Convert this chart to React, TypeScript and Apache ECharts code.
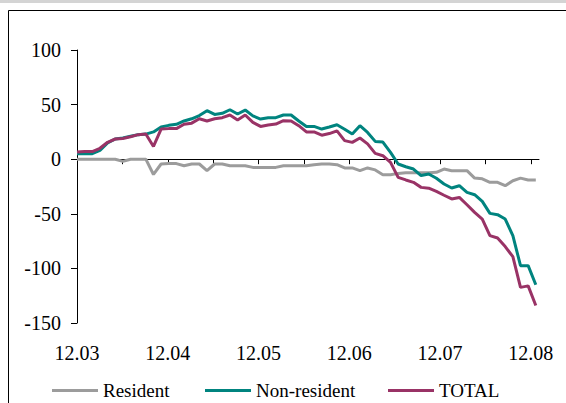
import React, { useEffect, useRef } from "react";
import * as echarts from "echarts";

// Month tick labels (yy.mm)
const MONTH_LABELS = ["12.03", "12.04", "12.05", "12.06", "12.07", "12.08"];
// Observations are regularly spaced, about 11.87 per month
const POINTS_PER_MONTH = 11.87;
const X_MAX_MONTHS = 5.09;

const resident = [
  0, 0, 0, 0, 0, 0, -2, 0, 0, 0,
  -14, -4.4, -4, -4, -6, -4.4, -4.4, -10.5, -4.4, -4.4,
  -6, -6, -6, -7.5, -7.5, -7.5, -7.5, -6, -6, -6,
  -6, -5, -4.4, -4.4, -5, -8, -8, -10.5, -8, -9.8,
  -14.2, -14.2, -13, -12.4, -12.4, -12.4, -12.4, -12, -9, -10.5,
  -10.5, -10.5, -17.3, -18, -21.2, -21.2, -24.3, -19.7, -17.3, -19,
  -19,
];

const nonResident = [
  5, 5, 5, 8, 15, 18.5, 19.5, 21, 22.5, 23,
  25, 29.5, 31, 32, 35, 37, 40, 44.4, 41, 42,
  45.3, 41.4, 45, 39.7, 36.8, 38, 38, 40.5, 40.5, 35,
  30, 30, 27.6, 29.5, 31.6, 27.5, 23, 30.7, 24.5, 16.3,
  15.7, 6.2, -4.4, -6.9, -9, -15, -13.6, -17.5, -22.7, -26.4,
  -24.3, -30.4, -32.5, -38.6, -49.6, -50.8, -54.8, -70, -97.5, -97.5,
  -115,
];

const total = [
  6.5, 7, 7, 10, 15.5, 18.5, 19, 20.5, 22.5, 23,
  11.7, 27.6, 28, 28, 32, 33, 37, 35, 37, 38,
  40.5, 36, 40.5, 33.7, 30, 31.3, 32.2, 35.3, 35, 30.7,
  25, 25, 22, 23.5, 26, 17, 15.4, 19.4, 14, 5.3,
  3.2, -2.9, -16.6, -19, -21.2, -25.8, -26.5, -29.5, -33, -36.4,
  -35, -41.7, -48.7, -54.8, -70, -72.2, -80, -89.3, -117.4, -116,
  -134,
];

const Y_MIN = -150;
const Y_MAX = 100;
const Y_STEP = 50;

const FONT = "Times New Roman, Liberation Serif, DejaVu Serif, serif";

function toPairs(values: number[]) {
  return values.map((v, i) => [i / POINTS_PER_MONTH, v]);
}

export default function App() {
  const ref = useRef<HTMLDivElement>(null);

  useEffect(() => {
    if (!ref.current) return;
    const chart = echarts.init(ref.current, undefined, { renderer: "svg" });

    const halfMonthTicks = MONTH_LABELS.flatMap((_, i) =>
      i < MONTH_LABELS.length - 1 ? [i, i + 0.5] : [i]
    );
    const monthTicks = MONTH_LABELS.map((_, i) => i);

    const legendBase = {
      orient: "horizontal" as const,
      icon: "rect",
      itemWidth: 46,
      itemHeight: 3,
      itemGap: 4,
      top: 376,
      textStyle: { color: "#000", fontSize: 19, fontFamily: FONT },
      selectedMode: false,
    };

    chart.setOption({
      animation: false,
      backgroundColor: "#fff",
      textStyle: { fontFamily: FONT },
      grid: { left: 77, right: 27, top: 50, bottom: 80, containLabel: false },
      xAxis: [
        {
          type: "value",
          min: 0,
          max: X_MAX_MONTHS,
          axisLine: { show: true, onZero: true, lineStyle: { color: "#000", width: 1 } },
          axisTick: {
            show: true,
            length: 5,
            inside: false,
            customValues: halfMonthTicks,
            lineStyle: { color: "#000" },
          },
          axisLabel: { show: false },
          splitLine: { show: false },
        },
        {
          type: "value",
          min: 0,
          max: X_MAX_MONTHS,
          position: "bottom",
          axisLine: { show: false, onZero: false },
          axisTick: { show: false },
          axisLabel: {
            show: true,
            customValues: monthTicks,
            margin: 20,
            color: "#000",
            fontSize: 20,
            fontFamily: FONT,
            formatter: (v: number) => MONTH_LABELS[Math.round(v)] ?? "",
          },
          splitLine: { show: false },
        },
      ],
      yAxis: {
        type: "value",
        min: Y_MIN,
        max: Y_MAX,
        interval: Y_STEP,
        axisLine: { show: true, onZero: false, lineStyle: { color: "#000", width: 1 } },
        axisTick: { show: true, length: 6, inside: false, lineStyle: { color: "#000" } },
        axisLabel: { color: "#000", fontSize: 20, fontFamily: FONT, margin: 16 },
        splitLine: { show: false },
      },
      legend: [
        { ...legendBase, left: 47, data: ["Resident"] },
        { ...legendBase, left: 200, data: ["Non-resident"] },
        { ...legendBase, left: 383, data: ["TOTAL"] },
      ],
      series: [
        {
          name: "Resident",
          type: "line",
          xAxisIndex: 0,
          data: toPairs(resident),
          symbol: "none",
          lineStyle: { color: "#9c9c9c", width: 3 },
          itemStyle: { color: "#9c9c9c" },
        },
        {
          name: "Non-resident",
          type: "line",
          xAxisIndex: 0,
          data: toPairs(nonResident),
          symbol: "none",
          lineStyle: { color: "#00847f", width: 3 },
          itemStyle: { color: "#00847f" },
        },
        {
          name: "TOTAL",
          type: "line",
          xAxisIndex: 0,
          data: toPairs(total),
          symbol: "none",
          lineStyle: { color: "#993366", width: 3 },
          itemStyle: { color: "#993366" },
        },
      ],
      graphic: [
        {
          type: "rect",
          shape: { x: 0, y: 0, width: 566, height: 3 },
          style: { fill: "#d4d4d4" },
          silent: true,
        },
        {
          type: "polyline",
          shape: { points: [[8.5, 403], [8.5, 10.5], [566, 10.5]] },
          style: { stroke: "#000", lineWidth: 1, fill: "none" },
          silent: true,
        },
      ],
    });

    return () => chart.dispose();
  }, []);

  return (
    <div
      ref={ref}
      style={{ position: "fixed", left: 0, top: 0, width: 566, height: 403, background: "#fff" }}
    />
  );
}
